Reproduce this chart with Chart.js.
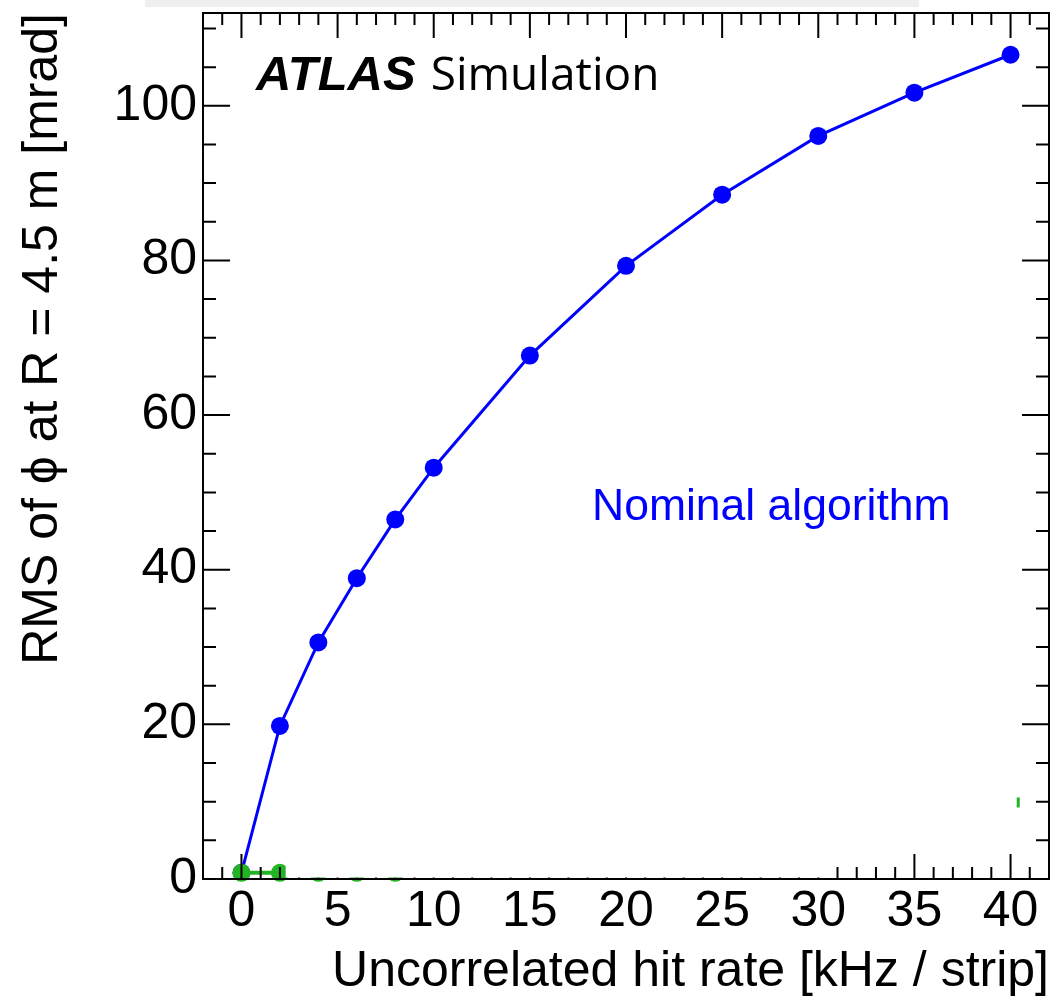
<!DOCTYPE html>
<html>
<head>
<meta charset="utf-8">
<script src="https://cdn.jsdelivr.net/npm/chart.js@4.4.1/dist/chart.umd.min.js"></script>
<style>
  html, body { margin: 0; padding: 0; background: #fff; }
  #wrap { position: relative; width: 1058px; height: 1003px; overflow: hidden; }
  #strip { position: absolute; left: 145px; top: 0; width: 774px; height: 7px; background: #efefef; }
  #c { position: absolute; left: 0; top: 0; }
</style>
</head>
<body>
<div id="wrap">
  <div id="strip"></div>
  <canvas id="c" width="1058" height="1003"></canvas>
</div>
<script>
// Uncorrelated hit rate [kHz / strip] and RMS of phi [mrad]
const hitRates   = [0, 2, 4, 6, 8, 10, 15, 20, 25, 30, 35, 40];
const nominalRms = [0.8, 19.8, 30.6, 38.9, 46.5, 53.2, 67.7, 79.3, 88.5, 96.1, 101.7, 106.6];

// second (green) series, only the low-rate points are shown
const altRates = [0, 2, 4, 6, 8];
const altRms   = [0.8, 0.8, 0.8, 0.8, 0.8];

// stray marker near the right edge
const edgeRates = [40.4];
const edgeRms   = [9.9];

const xTickValues = [0, 5, 10, 15, 20, 25, 30, 35, 40];
const yTickValues = [0, 20, 40, 60, 80, 100];

const BLUE = '#0000ff';
const GREEN = '#22b422';
const SANS = '"Liberation Sans", Arial, Helvetica, sans-serif';

const toPoints = (xs, ys) => xs.map((x, i) => ({ x, y: ys[i] }));

// ROOT-style frame: inward major/minor ticks on all four sides
const framePlugin = {
  id: 'frame',
  afterDatasetsDraw(chart) {
    const { ctx, chartArea: a, scales: { x, y } } = chart;
    ctx.save();
    ctx.strokeStyle = '#000';
    ctx.lineWidth = 2;
    ctx.beginPath();
    for (let v = -1; v <= 41; v++) {
      const px = x.getPixelForValue(v);
      const len = v % 5 === 0 ? 25 : 12;
      ctx.moveTo(px, a.bottom); ctx.lineTo(px, a.bottom - len);
      ctx.moveTo(px, a.top);    ctx.lineTo(px, a.top + len);
    }
    for (let v = 5; v <= 110; v += 5) {
      const py = y.getPixelForValue(v);
      const len = v % 20 === 0 ? 27 : 13;
      ctx.moveTo(a.left, py);  ctx.lineTo(a.left + len, py);
      ctx.moveTo(a.right, py); ctx.lineTo(a.right - len, py);
    }
    ctx.stroke();

    // empty legend panel sitting on the lower axis
    const bx0 = x.getPixelForValue(2.3);
    const bx1 = x.getPixelForValue(30.5);
    const by0 = y.getPixelForValue(5);
    ctx.fillStyle = '#fff';
    ctx.fillRect(bx0, by0, bx1 - bx0, a.bottom - 1.5 - by0);

    // frame
    ctx.strokeRect(a.left, a.top, a.right - a.left, a.bottom - a.top);

    // labels inside the frame
    ctx.textBaseline = 'alphabetic';
    ctx.textAlign = 'left';
    ctx.fillStyle = '#000';
    ctx.font = 'italic bold 49px ' + SANS;
    const ax = a.left + 53, ay = a.top + 77;
    ctx.fillText('ATLAS', ax, ay);
    const w = ctx.measureText('ATLAS').width;
    ctx.font = '46px "Open Sans", ' + SANS;
    ctx.fillText('Simulation', ax + w + 15, ay);

    ctx.fillStyle = BLUE;
    ctx.font = '44.5px ' + SANS;
    ctx.fillText('Nominal algorithm', a.left + 389, a.top + 507);
    ctx.restore();
  }
};

// keep the plot frame exactly where the axes are sized, without label overhang padding
const noOverhang = s => { s.paddingTop = 0; s.paddingBottom = 0; s.paddingLeft = 0; s.paddingRight = 0; };

new Chart(document.getElementById('c'), {
  type: 'scatter',
  data: {
    datasets: [
      {
        label: 'alt',
        data: toPoints(altRates, altRms),
        showLine: true,
        borderColor: GREEN,
        backgroundColor: GREEN,
        borderWidth: 4,
        pointRadius: 9,
        pointBorderWidth: 0,
        clip: false
      },
      {
        label: 'edge',
        data: toPoints(edgeRates, edgeRms),
        showLine: false,
        pointStyle: 'line',
        rotation: 90,
        pointRadius: 5,
        borderColor: GREEN,
        pointBorderColor: GREEN,
        pointBorderWidth: 3
      },
      {
        label: 'Nominal algorithm',
        data: toPoints(hitRates, nominalRms),
        showLine: true,
        borderColor: BLUE,
        backgroundColor: BLUE,
        borderWidth: 3,
        pointRadius: 9,
        pointBorderWidth: 0,
        tension: 0
      }
    ]
  },
  options: {
    responsive: false,
    devicePixelRatio: 1,
    animation: false,
    layout: { padding: { top: 13, right: 6, left: 0, bottom: 0 } },
    plugins: { legend: { display: false }, tooltip: { enabled: false } },
    scales: {
      x: {
        type: 'linear',
        min: -2, max: 42,
        grid: { display: false, drawTicks: false },
        border: { display: false },
        afterBuildTicks: s => { s.ticks = xTickValues.map(v => ({ value: v })); },
        afterFit: s => { s.height = 124; noOverhang(s); },
        ticks: {
          color: '#000',
          padding: 3,
          maxRotation: 0,
          autoSkip: false,
          font: { family: SANS, size: 50, lineHeight: 1.2 },
          callback: v => String(v)
        },
        title: {
          display: true,
          text: 'Uncorrelated hit rate [kHz / strip]',
          align: 'end',
          color: '#000',
          padding: { top: 0, bottom: 1 },
          font: { family: SANS, size: 50, lineHeight: 1.2 }
        }
      },
      y: {
        type: 'linear',
        min: 0, max: 112,
        grid: { display: false, drawTicks: false },
        border: { display: false },
        afterBuildTicks: s => { s.ticks = yTickValues.map(v => ({ value: v })); },
        afterFit: s => { s.width = 203; noOverhang(s); },
        ticks: {
          color: '#000',
          padding: 6,
          autoSkip: false,
          font: { family: SANS, size: 50, lineHeight: 1.2 },
          callback: v => String(v)
        },
        title: {
          display: true,
          text: 'RMS of \u03D5 at R = 4.5 m [mrad]',
          align: 'end',
          color: '#000',
          padding: { top: 13, bottom: 0 },
          font: { family: SANS, size: 50, lineHeight: 1.2 }
        }
      }
    }
  },
  plugins: [framePlugin]
});
</script>
</body>
</html>
